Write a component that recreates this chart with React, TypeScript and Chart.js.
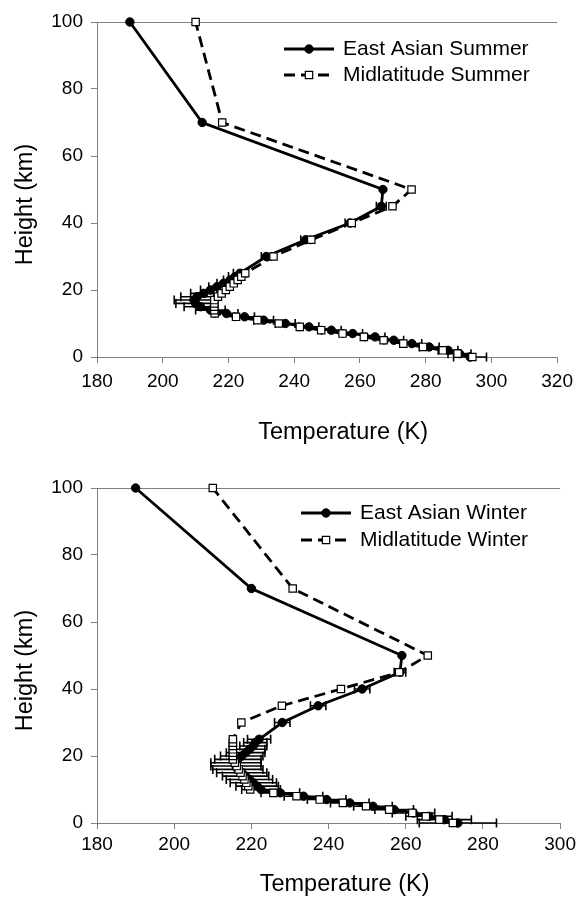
import React, { useEffect, useRef } from "react";
import { Chart, registerables } from "chart.js";

Chart.register(...registerables);

// ---------------- data ----------------
const HEIGHTS_KM = [0, 1, 2, 3, 4, 5, 6, 7, 8, 9, 10, 11, 12, 13, 14, 15, 16, 17, 18, 19, 20, 21, 22, 23, 24, 25, 30, 35, 40, 45, 50, 70, 100];

const EA_SUMMER_T = [293.5, 290.3, 286.8, 281.1, 275.8, 270.3, 264.6, 257.8, 251.3, 244.5, 237.3, 230.7, 224.9, 219.4, 214.5, 211.5, 210, 209.5, 210.5, 212.5, 214.5, 216.5, 218.5, 220.5, 222, 223.5, 231.5, 243.5, 257, 266.5, 267, 212, 190];
const EA_SUMMER_ERR = [5, 3.5, 3, 3, 3, 3, 3, 3, 3, 3, 3, 3, 3, 3.5, 4.5, 5, 6, 6, 5, 4, 3, 2.5, 2, 2, 2, 2, 1.5, 1.5, 1.5, 1.5, 0, 0, 0];
const ML_SUMMER_T = [294.2, 289.7, 285.2, 279.2, 273.2, 267.2, 261.2, 254.7, 248.2, 241.7, 235.3, 228.8, 222.3, 215.8, 215.7, 215.7, 215.7, 215.7, 216.8, 217.9, 219.2, 220.4, 221.6, 222.8, 223.9, 225.1, 233.7, 245.2, 257.5, 269.9, 275.7, 218.1, 210];

const EA_WINTER_T = [273.5, 270, 266, 262, 257, 251.5, 245.5, 239.5, 233.5, 227.5, 222.5, 221.5, 220.5, 219.5, 218.5, 217.5, 216.5, 216, 216, 216.5, 217.5, 218.5, 219.5, 220.5, 221, 222, 228, 237.3, 248.7, 258.5, 259, 220, 190];
const EA_WINTER_ERR = [10, 7, 6, 5.5, 5, 5, 5, 5, 5, 5, 5, 5.5, 6, 6, 6, 6.5, 6.5, 6.5, 6.5, 6, 5.5, 5, 4, 3.5, 3, 3, 2, 2, 2, 1.5, 0, 0, 0];
const ML_WINTER_T = [272.2, 268.7, 265.2, 261.7, 255.7, 249.7, 243.7, 237.7, 231.7, 225.7, 219.7, 219.2, 218.7, 218.2, 217.7, 217.2, 216.7, 216.2, 215.7, 215.2, 215.2, 215.2, 215.2, 215.2, 215.2, 215.2, 217.4, 227.9, 243.2, 258.3, 265.7, 230.7, 210];

const SUMMER_X_TICKS = [180, 200, 220, 240, 260, 280, 300, 320];
const WINTER_X_TICKS = [180, 200, 220, 240, 260, 280, 300];
const Y_TICKS = [0, 20, 40, 60, 80, 100];

const SUMMER_LABELS = ["East Asian Summer", "Midlatitude Summer"];
const WINTER_LABELS = ["East Asian Winter", "Midlatitude Winter"];
const X_TITLE = "Temperature (K)";
const Y_TITLE = "Height (km)";

// ---------------- styling ----------------
const FONT = "'Liberation Sans', Arial, Helvetica, sans-serif";
const AXIS_GRAY = "#808080";

function makeErrorBarPlugin() {
  return {
    id: "errorBars",
    afterDatasetDraw(chart: any, args: any) {
      const ds = chart.data.datasets[args.index];
      if (!ds.errors) return;
      const ctx = chart.ctx;
      const xs = chart.scales.x;
      const ys = chart.scales.y;
      ctx.save();
      ctx.strokeStyle = "#000";
      ctx.lineWidth = 1.6;
      ctx.setLineDash([]);
      ds.data.forEach((pt: any, i: number) => {
        const e = ds.errors[i];
        if (!e) return;
        const y = ys.getPixelForValue(pt.y);
        const xa = xs.getPixelForValue(pt.x - e);
        const xb = xs.getPixelForValue(pt.x + e);
        ctx.beginPath();
        ctx.moveTo(xa, y);
        ctx.lineTo(xb, y);
        ctx.moveTo(xa, y - 4.5);
        ctx.lineTo(xa, y + 4.5);
        ctx.moveTo(xb, y - 4.5);
        ctx.lineTo(xb, y + 4.5);
        ctx.stroke();
      });
      ctx.restore();
    },
  };
}

function makeLegendPlugin(lg: { x0: number; x1: number; textX: number; rows: number[] }) {
  return {
    id: "profileLegend",
    afterDraw(chart: any) {
      const ctx = chart.ctx;
      ctx.save();
      chart.data.datasets.forEach((ds: any, i: number) => {
        const y = lg.rows[i];
        ctx.strokeStyle = ds.borderColor;
        ctx.lineWidth = ds.borderWidth;
        ctx.setLineDash(ds.borderDash || []);
        ctx.beginPath();
        ctx.moveTo(lg.x0, y);
        ctx.lineTo(lg.x1, y);
        ctx.stroke();
        ctx.setLineDash([]);
        const cx = (lg.x0 + lg.x1) / 2;
        ctx.fillStyle = ds.pointBackgroundColor;
        ctx.strokeStyle = ds.pointBorderColor;
        ctx.lineWidth = ds.pointBorderWidth;
        ctx.beginPath();
        if (ds.pointStyle === "rect") {
          const s = Math.SQRT1_2 * ds.pointRadius;
          ctx.rect(cx - s, y - s, 2 * s, 2 * s);
        } else {
          ctx.arc(cx, y, ds.pointRadius, 0, Math.PI * 2);
        }
        ctx.fill();
        ctx.stroke();
        ctx.fillStyle = "#000";
        ctx.font = `21px ${FONT}`;
        ctx.textAlign = "left";
        ctx.textBaseline = "middle";
        ctx.fillText(ds.label, lg.textX, y);
      });
      ctx.restore();
    },
  };
}

// axis titles placed relative to the plot area (offset like the original layout)
function makeTitlesPlugin(t: { xDx: number; xCy: number; yCx: number; yDy: number }) {
  return {
    id: "axisTitles",
    afterDraw(chart: any) {
      const ctx = chart.ctx;
      const a = chart.chartArea;
      ctx.save();
      ctx.fillStyle = "#000";
      ctx.font = `23.5px ${FONT}`;
      ctx.textAlign = "center";
      ctx.textBaseline = "middle";
      ctx.fillText(X_TITLE, (a.left + a.right) / 2 + t.xDx, t.xCy);
      ctx.translate(t.yCx, (a.top + a.bottom) / 2 + t.yDy);
      ctx.rotate(-Math.PI / 2);
      ctx.fillText(Y_TITLE, 0, 0);
      ctx.restore();
    },
  };
}

type Params = {
  eaT: number[];
  eaErr: number[];
  mlT: number[];
  labels: string[];
  xMin: number;
  xMax: number;
  xTicks: number[];
  padTop: number;
  xAxisHeight: number;
  xTickPad: number;
  legend: { x0: number; x1: number; textX: number; rows: number[] };
  titles: { xDx: number; xCy: number; yCx: number; yDy: number };
};

function buildConfig(p: Params): any {
  return {
    type: "scatter",
    data: {
      datasets: [
        {
          label: p.labels[0],
          data: HEIGHTS_KM.map((h, i) => ({ x: p.eaT[i], y: h })),
          errors: p.eaErr,
          showLine: true,
          borderColor: "#000",
          borderWidth: 2.8,
          pointStyle: "circle",
          pointRadius: 4.2,
          pointBackgroundColor: "#000",
          pointBorderColor: "#000",
          pointBorderWidth: 1,
          clip: false,
          order: 1,
        },
        {
          label: p.labels[1],
          data: HEIGHTS_KM.map((h, i) => ({ x: p.mlT[i], y: h })),
          showLine: true,
          borderColor: "#000",
          borderWidth: 2.8,
          borderDash: [11, 6],
          pointStyle: "rect",
          pointRadius: 5.2,
          pointBackgroundColor: "#fff",
          pointBorderColor: "#000",
          pointBorderWidth: 1.2,
          clip: false,
          order: 0,
        },
      ],
    },
    options: {
      animation: false,
      responsive: false,
      devicePixelRatio: 1,
      events: [],
      layout: { padding: { top: p.padTop, right: 16, bottom: 0, left: 0 } },
      plugins: {
        legend: { display: false },
        tooltip: { enabled: false },
        title: { display: false },
      },
      scales: {
        x: {
          type: "linear",
          min: p.xMin,
          max: p.xMax,
          afterBuildTicks: (s: any) => {
            s.ticks = p.xTicks.map((v) => ({ value: v }));
          },
          afterFit: (s: any) => {
            s.height = p.xAxisHeight;
          },
          ticks: {
            color: "#000",
            font: { family: FONT, size: 19 },
            padding: p.xTickPad,
            maxRotation: 0,
            autoSkip: false,
          },
          grid: {
            drawOnChartArea: false,
            drawTicks: true,
            tickLength: 6,
            tickColor: AXIS_GRAY,
            color: AXIS_GRAY,
          },
          border: { display: true, color: AXIS_GRAY, width: 1 },
          title: { display: false },
        },
        y: {
          type: "linear",
          min: 0,
          max: 100,
          afterBuildTicks: (s: any) => {
            s.ticks = Y_TICKS.map((v) => ({ value: v }));
          },
          afterFit: (s: any) => {
            s.width = 97;
          },
          ticks: {
            color: "#000",
            font: { family: FONT, size: 19 },
            padding: 8,
            autoSkip: false,
          },
          grid: {
            drawTicks: true,
            tickLength: 6,
            tickColor: AXIS_GRAY,
            color: (ctx: any) =>
              ctx.tick && ctx.tick.value === 100 ? AXIS_GRAY : "rgba(0,0,0,0)",
          },
          border: { display: true, color: AXIS_GRAY, width: 1 },
          title: { display: false },
        },
      },
    },
    plugins: [makeErrorBarPlugin(), makeLegendPlugin(p.legend), makeTitlesPlugin(p.titles)],
  };
}

function ProfileChart({ params, top, height }: { params: Params; top: number; height: number }) {
  const ref = useRef<HTMLCanvasElement>(null);
  useEffect(() => {
    if (!ref.current) return;
    const chart = new Chart(ref.current, buildConfig(params));
    return () => chart.destroy();
  }, []);
  return (
    <canvas
      ref={ref}
      width={580}
      height={height}
      style={{ position: "absolute", left: 0, top, width: 580, height, display: "block" }}
    />
  );
}

const SUMMER_PARAMS: Params = {
  eaT: EA_SUMMER_T,
  eaErr: EA_SUMMER_ERR,
  mlT: ML_SUMMER_T,
  labels: SUMMER_LABELS,
  xMin: 180,
  xMax: 320,
  xTicks: SUMMER_X_TICKS,
  padTop: 22,
  xAxisHeight: 98,
  xTickPad: 7,
  legend: { x0: 284, x1: 334, textX: 343, rows: [49, 75] },
  titles: { xDx: 16, xCy: 433, yCx: 26, yDy: 15 },
};

const WINTER_PARAMS: Params = {
  eaT: EA_WINTER_T,
  eaErr: EA_WINTER_ERR,
  mlT: ML_WINTER_T,
  labels: WINTER_LABELS,
  xMin: 180,
  xMax: 300,
  xTicks: WINTER_X_TICKS,
  padTop: 33,
  xAxisHeight: 84,
  xTickPad: 4,
  legend: { x0: 301, x1: 351, textX: 360, rows: [58, 85] },
  titles: { xDx: 16, xCy: 430, yCx: 26, yDy: 15 },
};

export default function App() {
  return (
    <div
      style={{
        position: "absolute",
        left: 0,
        top: 0,
        width: 580,
        height: 907,
        background: "#fff",
        overflow: "hidden",
      }}
    >
      <ProfileChart params={SUMMER_PARAMS} top={0} height={455} />
      <ProfileChart params={WINTER_PARAMS} top={455} height={452} />
    </div>
  );
}
